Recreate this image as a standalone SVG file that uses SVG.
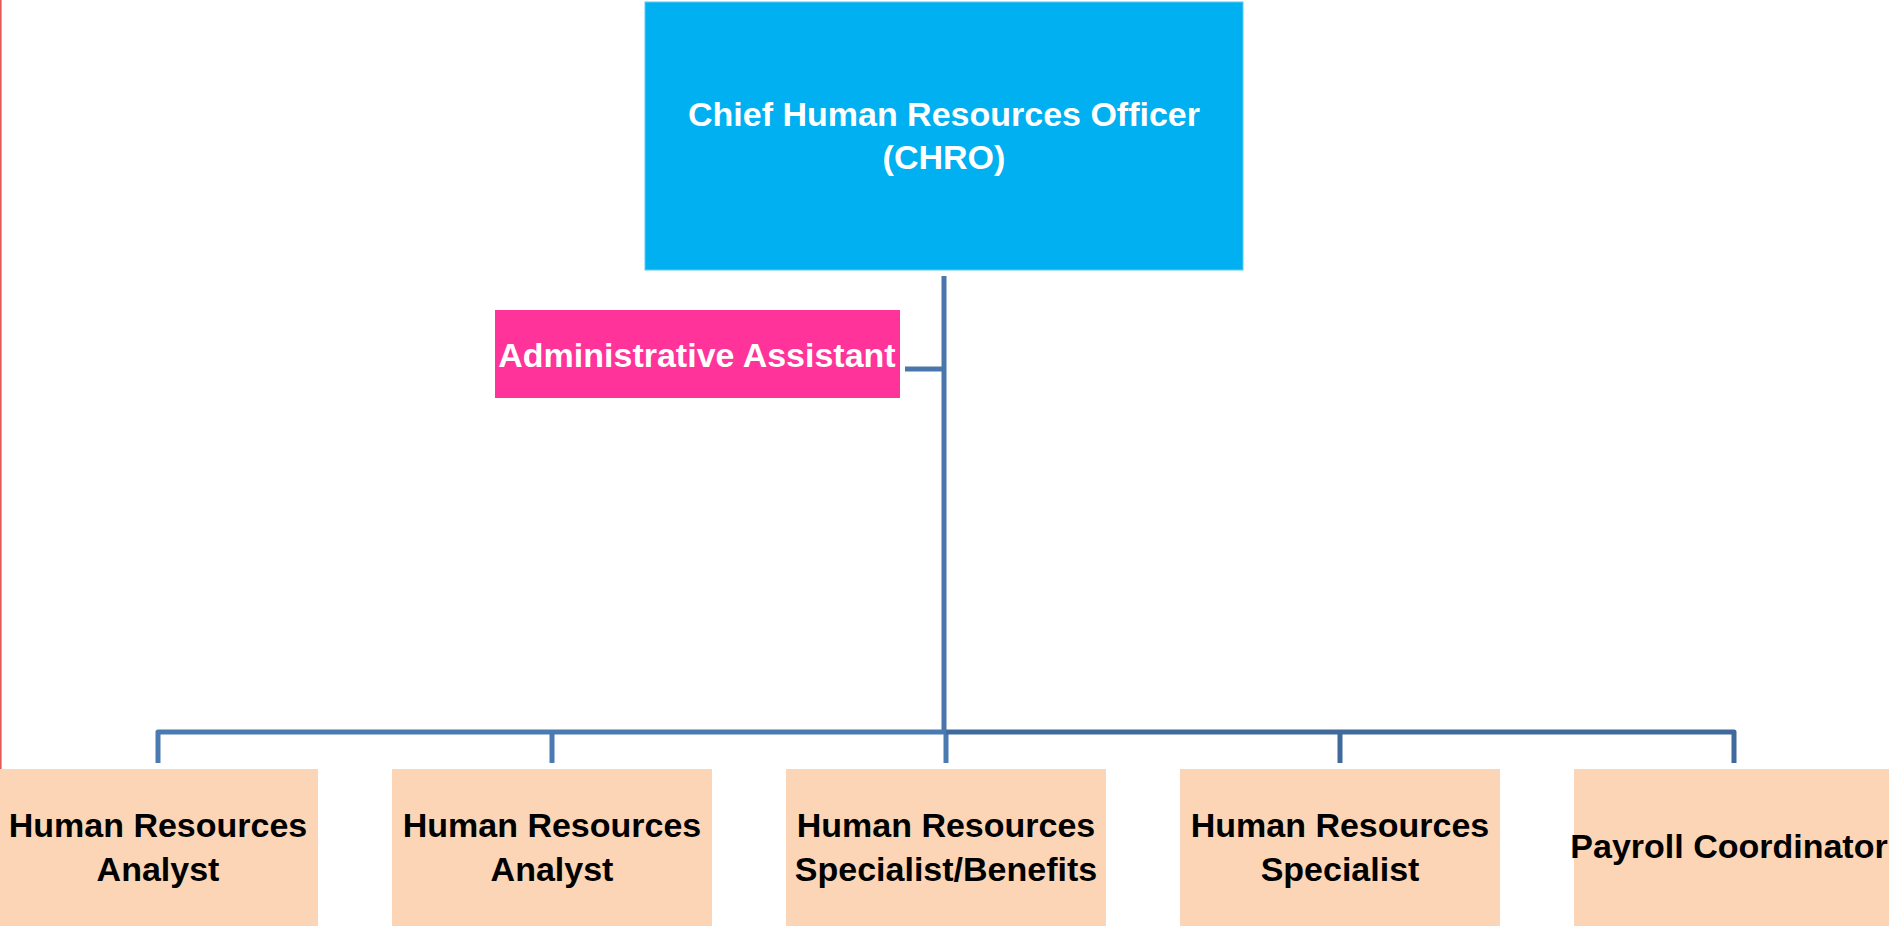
<svg xmlns="http://www.w3.org/2000/svg" width="1889" height="926" viewBox="0 0 1889 926">
<style>
.lbl{font-family:"Liberation Sans",Arial,sans-serif;font-weight:bold;font-size:34px;text-anchor:middle}
.w{fill:#FFFFFF}
.k{fill:#000000}
.staff{fill:#FBD5B5}
.conn{fill:none;stroke-width:5;stroke-linejoin:round}
</style>
<rect x="0" y="0" width="1889" height="926" fill="#FFFFFF"/>
<rect x="0" y="0" width="1.6" height="926" fill="#E05A5A"/>
<g id="connectors">
  <path class="conn" stroke="#4A76AB" stroke-width="6" d="M944 276 V732"/>
  <path class="conn" stroke="#4A76AB" d="M905 369 H944"/>
  <path class="conn" stroke="#4A7AB2" d="M946 732 H158 V763 M552 732 V763 M946 732 V763"/>
  <path class="conn" stroke="#3F6A9B" d="M946 732 H1734 V763 M1340 732 V763"/>
</g>
<g id="chro">
  <rect x="645" y="2" width="598" height="268" fill="#00B0F0" stroke="#5CCAF3" stroke-width="1"/>
  <text class="lbl w" x="944" y="126">Chief Human Resources Officer</text>
  <text class="lbl w" x="944" y="169">(CHRO)</text>
</g>
<g id="admin">
  <rect x="495" y="310" width="405" height="88" fill="#FF3399"/>
  <text class="lbl w" x="697" y="367">Administrative Assistant</text>
</g>
<g id="analyst1">
  <rect class="staff" x="-2" y="769" width="320" height="190"/>
  <text class="lbl k" x="158" y="837">Human Resources</text>
  <text class="lbl k" x="158" y="881">Analyst</text>
</g>
<g id="analyst2">
  <rect class="staff" x="392" y="769" width="320" height="190"/>
  <text class="lbl k" x="552" y="837">Human Resources</text>
  <text class="lbl k" x="552" y="881">Analyst</text>
</g>
<g id="specialist-benefits">
  <rect class="staff" x="786" y="769" width="320" height="190"/>
  <text class="lbl k" x="946" y="837">Human Resources</text>
  <text class="lbl k" x="946" y="881">Specialist/Benefits</text>
</g>
<g id="specialist">
  <rect class="staff" x="1180" y="769" width="320" height="190"/>
  <text class="lbl k" x="1340" y="837">Human Resources</text>
  <text class="lbl k" x="1340" y="881">Specialist</text>
</g>
<g id="payroll">
  <rect class="staff" x="1574" y="769" width="320" height="190"/>
  <text class="lbl k" x="1729" y="858">Payroll Coordinator</text>
</g>
</svg>
